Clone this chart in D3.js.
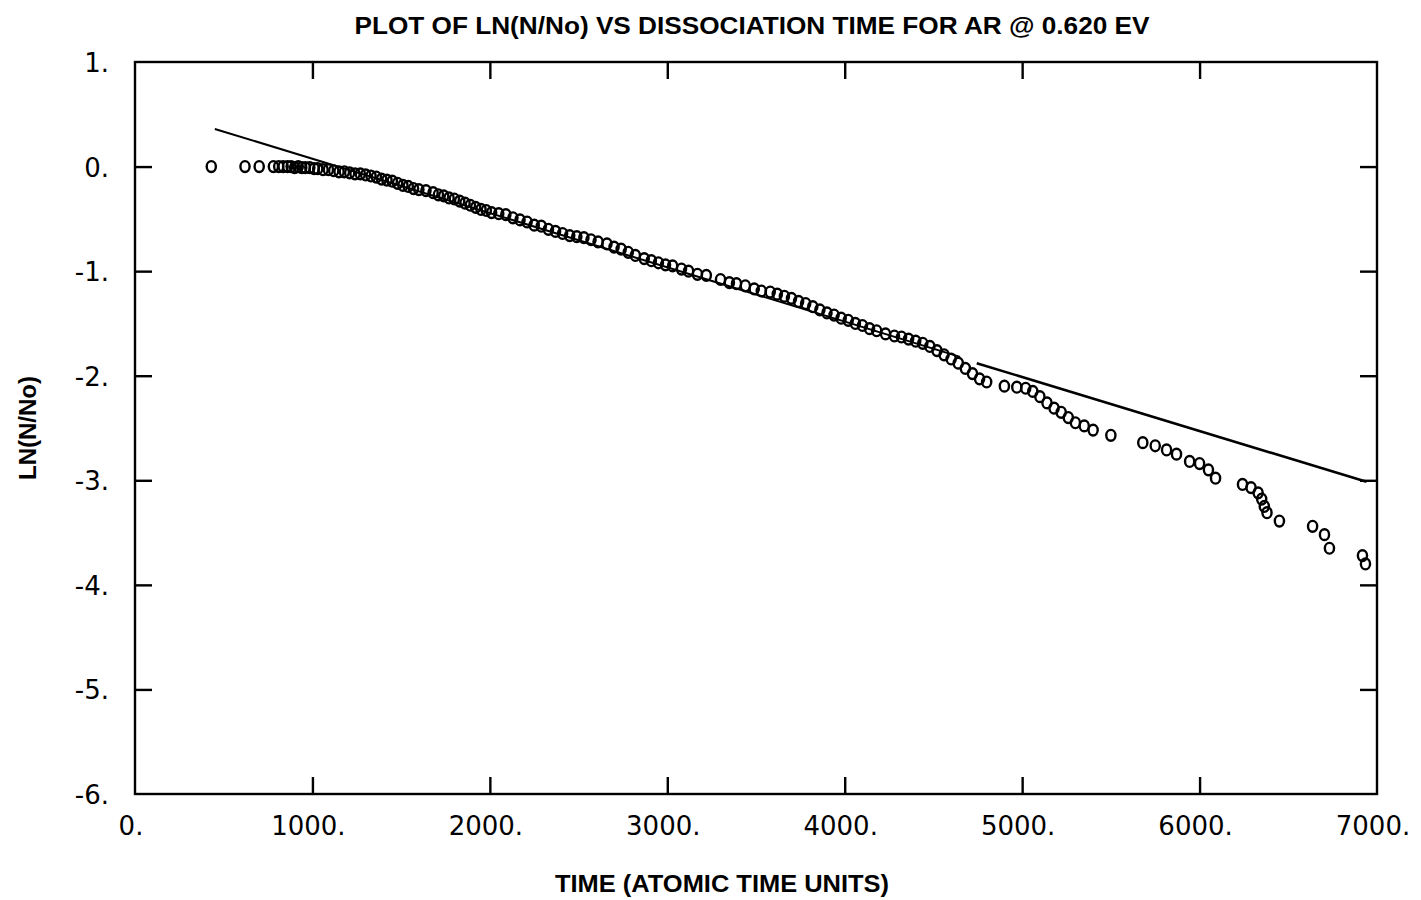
<!DOCTYPE html>
<html><head><meta charset="utf-8">
<script src="https://cdn.jsdelivr.net/npm/d3@7"></script>
<style>body{margin:0;background:#fff}svg{display:block}</style>
</head><body><svg id="c" width="1421" height="900"></svg>
<script>
const title = "PLOT OF LN(N/No) VS DISSOCIATION TIME FOR AR @ 0.620 EV";
const xLabel = "TIME (ATOMIC TIME UNITS)";
const yLabel = "LN(N/No)";
const xTicks = [0,1000,2000,3000,4000,5000,6000,7000];
const yTicks = [1,0,-1,-2,-3,-4,-5,-6];
const times = [430,620,700,780,810,835,860,880,900,920,940,960,985,1010,1030,1060,1090,1120,1150,1180,1210,1240,1270,1300,1330,1360,1390,1420,1450,1480,1510,1540,1570,1600,1640,1680,1710,1740,1770,1800,1830,1860,1890,1920,1950,1980,2010,2050,2090,2130,2170,2210,2250,2290,2330,2370,2410,2450,2490,2530,2570,2610,2660,2700,2740,2780,2820,2870,2910,2950,2990,3030,3080,3120,3170,3220,3300,3350,3390,3440,3490,3530,3580,3620,3660,3700,3740,3780,3820,3860,3900,3940,3980,4020,4060,4100,4140,4180,4230,4280,4320,4360,4400,4440,4480,4520,4560,4600,4640,4680,4720,4760,4800,4900,4970,5020,5060,5100,5140,5180,5220,5260,5300,5350,5400,5500,5680,5750,5814,5870,5944,6000,6050,6090,6242,6290,6330,6350,6365,6380,6450,6637,6704,6732,6918,6935];
const lnRatio = [0.0,0.0,0.0,0.0,0.0,0.0,0.0,0.0,-0.01,0.0,-0.01,-0.01,-0.01,-0.02,-0.02,-0.03,-0.03,-0.04,-0.05,-0.05,-0.06,-0.07,-0.07,-0.08,-0.09,-0.1,-0.12,-0.13,-0.14,-0.16,-0.18,-0.19,-0.21,-0.22,-0.23,-0.25,-0.27,-0.28,-0.3,-0.31,-0.33,-0.35,-0.37,-0.39,-0.41,-0.42,-0.44,-0.45,-0.46,-0.49,-0.51,-0.53,-0.56,-0.57,-0.6,-0.62,-0.64,-0.66,-0.67,-0.68,-0.7,-0.72,-0.74,-0.77,-0.79,-0.82,-0.85,-0.88,-0.9,-0.92,-0.94,-0.95,-0.98,-1.0,-1.03,-1.04,-1.08,-1.11,-1.12,-1.14,-1.17,-1.19,-1.2,-1.22,-1.24,-1.26,-1.29,-1.31,-1.34,-1.37,-1.4,-1.42,-1.45,-1.47,-1.5,-1.52,-1.55,-1.57,-1.6,-1.62,-1.63,-1.65,-1.67,-1.69,-1.72,-1.76,-1.8,-1.84,-1.88,-1.93,-1.98,-2.03,-2.06,-2.1,-2.11,-2.12,-2.15,-2.2,-2.26,-2.31,-2.35,-2.4,-2.45,-2.48,-2.52,-2.57,-2.64,-2.67,-2.71,-2.75,-2.82,-2.84,-2.9,-2.98,-3.04,-3.07,-3.12,-3.18,-3.25,-3.31,-3.39,-3.44,-3.52,-3.65,-3.72,-3.8];
const fit1T = [450,4650];
const fit1Y = [0.36,-1.82];
const fit2T = [4744,6941];
const fit2Y = [-1.88,-3.015];

const svg = d3.select("#c");
const L=135,R=1377,T=62,B=794;
const x = d3.scaleLinear().domain([0,7000]).range([L,R]);
const y = d3.scaleLinear().domain([-6,1]).range([B,T]);
const tickLen = 17;

svg.append("rect").attr("x",L).attr("y",T).attr("width",R-L).attr("height",B-T)
  .attr("fill","none").attr("stroke","#000").attr("stroke-width",2.4);

const fmt = d=>d+".";
const gB = svg.append("g").attr("transform",`translate(0,${B})`)
  .call(d3.axisTop(x).tickValues(xTicks.slice(1,-1)).tickSize(tickLen).tickFormat(""));
const gT = svg.append("g").attr("transform",`translate(0,${T})`)
  .call(d3.axisBottom(x).tickValues(xTicks.slice(1,-1)).tickSize(tickLen).tickFormat(""));
const gL = svg.append("g").attr("transform",`translate(${L},0)`)
  .call(d3.axisRight(y).tickValues(yTicks.slice(1,-1)).tickSize(tickLen).tickFormat(""));
const gR = svg.append("g").attr("transform",`translate(${R},0)`)
  .call(d3.axisLeft(y).tickValues(yTicks.slice(1,-1)).tickSize(tickLen).tickFormat(""));
[gB,gT,gL,gR].forEach(g=>{g.select(".domain").remove();g.selectAll("line").attr("stroke","#000").attr("stroke-width",2.4);});

svg.append("g").selectAll("text").data(xTicks).join("text")
  .attr("x",d=>x(d)-4).attr("y",B+41).attr("text-anchor","middle")
  .attr("font-family","DejaVu Sans").attr("font-size",26).attr("fill","#000")
  .text(fmt);
svg.append("g").selectAll("text").data(yTicks).join("text")
  .attr("x",109).attr("y",d=>y(d)+10).attr("text-anchor","end")
  .attr("font-family","DejaVu Sans").attr("font-size",26).attr("fill","#000")
  .text(fmt);

const line = d3.line().x(d=>x(d[0])).y(d=>y(d[1]));
svg.append("path").attr("d",line(d3.zip(fit1T,fit1Y))).attr("fill","none").attr("stroke","#000").attr("stroke-width",2);
svg.append("path").attr("d",line(d3.zip(fit2T,fit2Y))).attr("fill","none").attr("stroke","#000").attr("stroke-width",2.6);

svg.append("g").selectAll("ellipse").data(d3.zip(times,lnRatio)).join("ellipse")
  .attr("cx",d=>x(d[0])).attr("cy",d=>y(d[1])).attr("rx",4.6).attr("ry",5.4)
  .attr("fill","none").attr("stroke","#000").attr("stroke-width",2.4);

svg.append("text").attr("x",752).attr("y",34).attr("text-anchor","middle")
  .attr("font-family","Liberation Sans").attr("font-weight","bold").attr("font-size",24).attr("textLength",795).attr("lengthAdjust","spacingAndGlyphs")
  .text(title);
svg.append("text").attr("x",722).attr("y",892).attr("text-anchor","middle")
  .attr("font-family","Liberation Sans").attr("font-weight","bold").attr("font-size",24).attr("textLength",334).attr("lengthAdjust","spacingAndGlyphs")
  .text(xLabel);
svg.append("text").attr("transform","translate(36,428) rotate(-90)").attr("text-anchor","middle")
  .attr("font-family","Liberation Sans").attr("font-weight","bold").attr("font-size",23).attr("textLength",104).attr("lengthAdjust","spacingAndGlyphs")
  .text(yLabel);
</script></body></html>
